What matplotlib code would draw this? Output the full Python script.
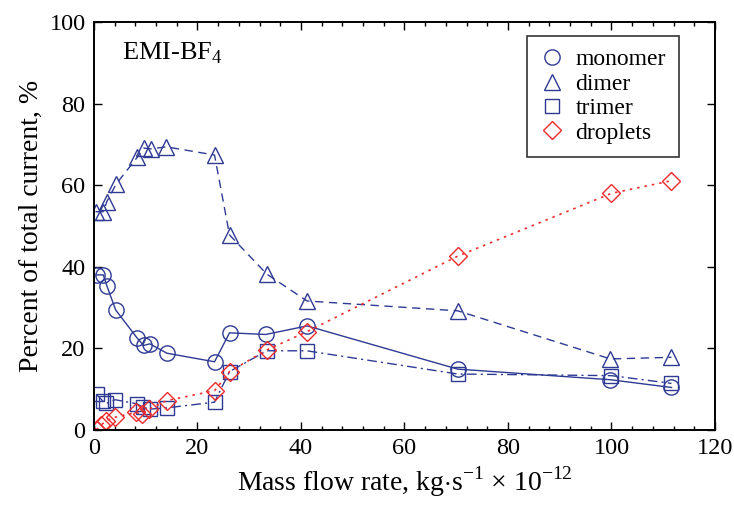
import matplotlib.pyplot as plt
from matplotlib.ticker import MultipleLocator

plt.rcParams['font.family'] = ['Liberation Serif', 'DejaVu Serif']
plt.rcParams['mathtext.fontset'] = 'custom'
plt.rcParams['mathtext.rm'] = 'Liberation Serif'

blue = '#2E3A93'
red = '#EE2B2B'

# monomer
mono_x = [0.5, 1.8, 2.5, 4.2, 8.3, 9.6, 10.8, 14.1, 23.3, 26.2, 33.2, 41.2, 70.3, 99.8, 111.6]
mono_y = [38.0, 38.0, 35.3, 29.4, 22.6, 20.7, 21.1, 18.8, 16.7, 23.8, 23.4, 25.5, 14.9, 12.3, 10.4]

# dimer
dim_x = [0.3, 1.8, 2.5, 4.3, 8.4, 9.6, 11.0, 14.0, 23.3, 26.2, 33.4, 41.2, 70.3, 99.8, 111.6]
dim_y = [53.5, 53.5, 56.0, 60.3, 66.9, 69.1, 68.9, 69.4, 67.4, 47.8, 38.2, 31.6, 29.2, 17.4, 17.8]

# trimer
tri_x = [0.5, 1.7, 2.4, 4.1, 8.3, 9.4, 10.8, 14.1, 23.3, 26.2, 33.4, 41.1, 70.3, 100.0, 111.6]
tri_y = [8.7, 7.1, 6.5, 7.4, 6.4, 5.6, 5.1, 5.4, 6.8, 14.3, 19.4, 19.4, 13.7, 13.3, 11.4]

# droplets
drop_x = [0.5, 1.4, 2.4, 4.1, 8.1, 9.2, 10.7, 14.1, 23.3, 26.2, 33.4, 41.2, 70.3, 100.0, 111.6]
drop_y = [0.0, 1.2, 2.3, 3.1, 4.3, 3.9, 5.1, 7.2, 9.6, 14.3, 19.6, 24.1, 42.6, 58.0, 61.1]

fig = plt.figure(figsize=(7.34, 5.13), dpi=100)
ax = fig.add_axes([0.128, 0.162, 0.846, 0.795])

mk = dict(markerfacecolor='none', markersize=11, markeredgewidth=1.0, linewidth=1.0)
ax.plot(mono_x, mono_y, '-', color=blue, marker='o', label='monomer', **mk)
ax.plot(dim_x, dim_y, color=blue, marker='^', linestyle=(0, (6, 4)), label='dimer', **mk)
ax.plot(tri_x, tri_y, color=blue, marker='s', linestyle=(0, (7, 3, 1.5, 3)), label='trimer',
        markerfacecolor='none', markersize=10, markeredgewidth=1.0, linewidth=1.0)
ax.plot(drop_x, drop_y, color=red, marker='D', linestyle=(0, (1.5, 3)), label='droplets',
        markerfacecolor='none', markersize=9, markeredgewidth=1.0, linewidth=1.2)

ax.set_xlim(0, 120)
ax.set_ylim(0, 100)
ax.xaxis.set_major_locator(MultipleLocator(20))
ax.xaxis.set_minor_locator(MultipleLocator(4))
ax.yaxis.set_major_locator(MultipleLocator(20))
ax.tick_params(which='both', direction='in', top=True, right=True, labelsize=17.5)
ax.tick_params(which='major', length=6, width=1.0, pad=6)
ax.tick_params(which='minor', length=3, width=1.0)
for s in ax.spines.values():
    s.set_linewidth(1.4)

ax.set_xlabel(r'Mass flow rate, kg$\cdot$s$^{-1}$ $\times$ 10$^{-12}$', fontsize=20, labelpad=4)
ax.set_ylabel('Percent of total current, %', fontsize=20, labelpad=4)

ax.text(0.045, 0.955, r'EMI-BF$_4$', transform=ax.transAxes, fontsize=19, va='top')

leg = ax.legend(loc='upper right', bbox_to_anchor=(0.942, 0.966),
                prop={'family': ['Liberation Serif'], 'size': 17}, frameon=True,
                fancybox=False, edgecolor='black', handlelength=1.0, handletextpad=0.5,
                borderpad=0.55, labelspacing=0.12, borderaxespad=0)
leg.get_frame().set_linewidth(1.2)
for h in leg.get_lines():
    h.set_linestyle('none')

fig.savefig('out.png', dpi=100)
